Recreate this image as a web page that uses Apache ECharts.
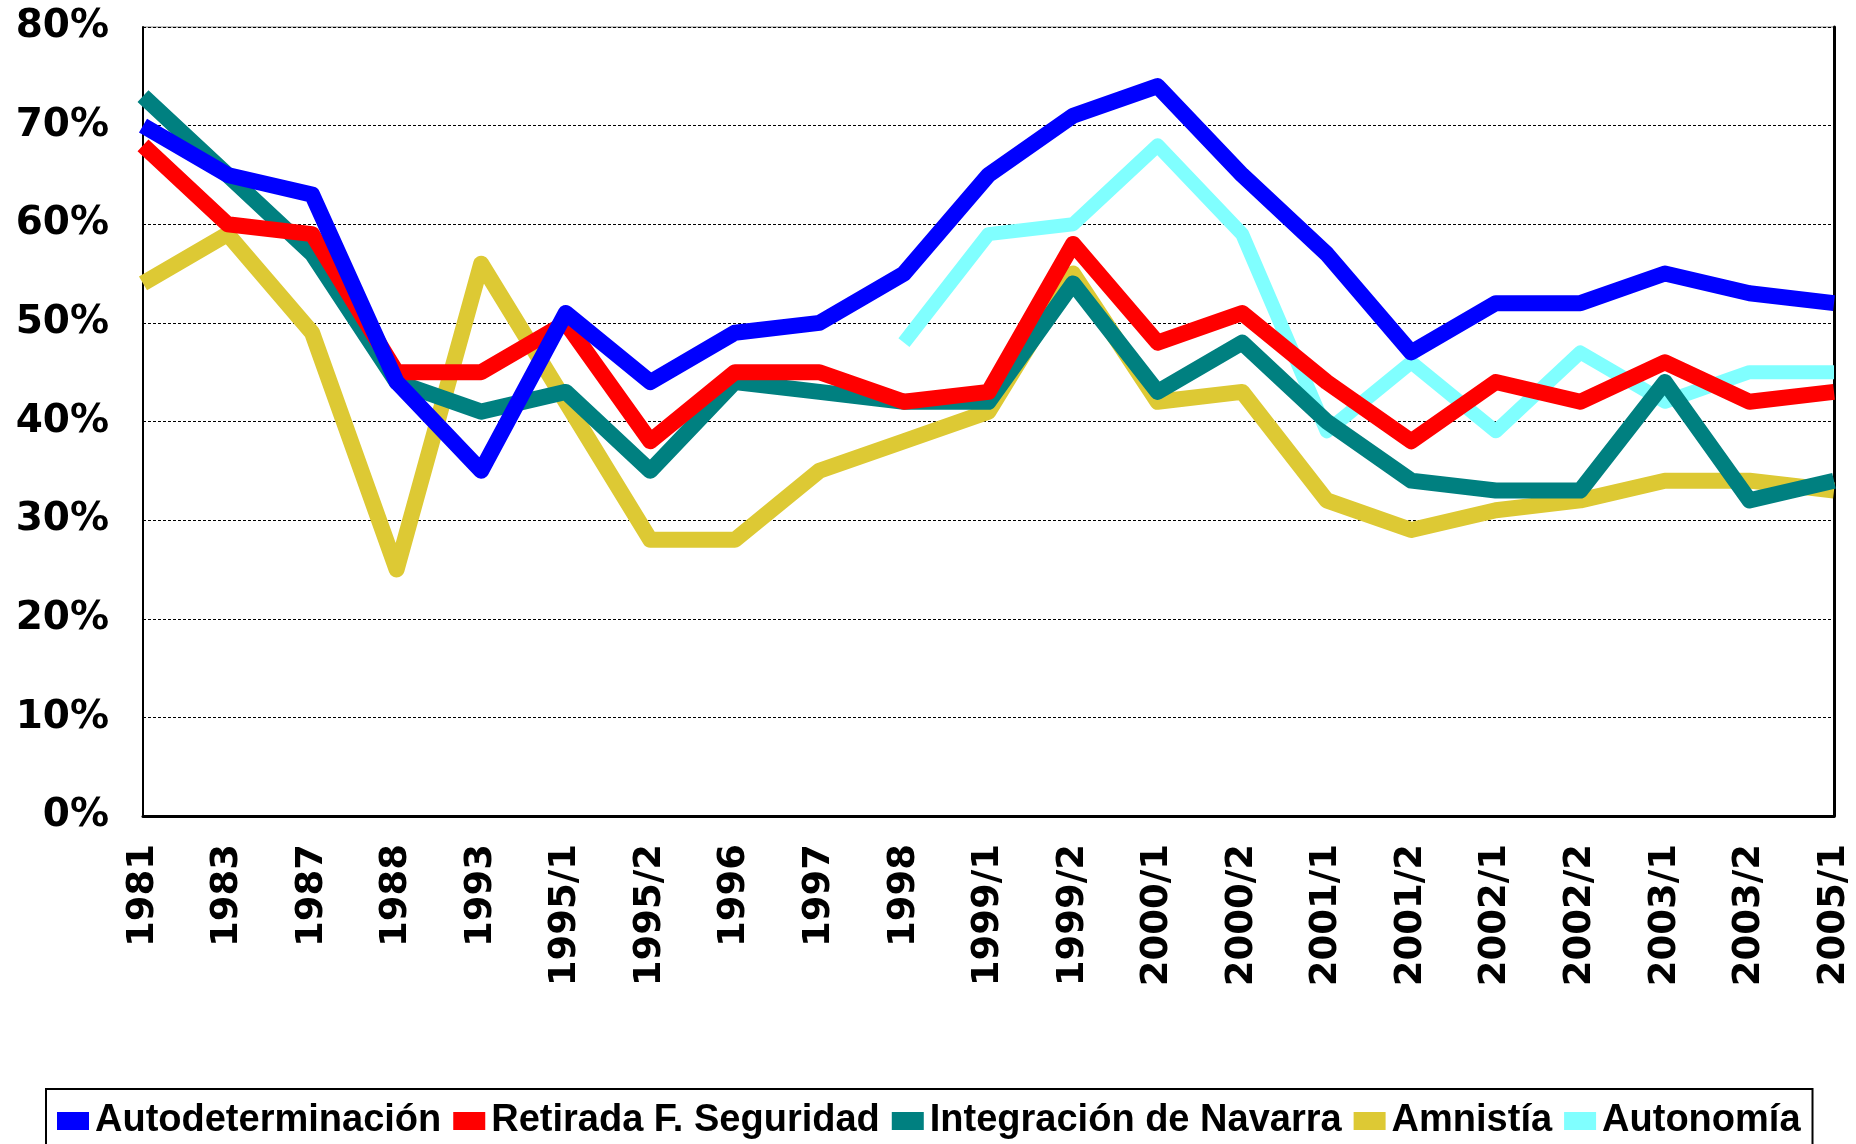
<!DOCTYPE html>
<html>
<head>
<meta charset="utf-8">
<script src="https://cdn.jsdelivr.net/npm/echarts@6/dist/echarts.min.js"></script>
<style>
html,body{margin:0;padding:0;background:#fff;}
#chart{width:1856px;height:1144px;}
</style>
</head>
<body>
<div id="chart"></div>
<script>
const categories = ['1981','1983','1987','1988','1993','1995/1','1995/2','1996','1997','1998','1999/1','1999/2','2000/1','2000/2','2001/1','2001/2','2002/1','2002/2','2003/1','2003/2','2005/1'];
const autodeterminacion = [70,65,63,44,35,51,44,49,50,55,65,71,74,65,57,47,52,52,55,53,52];
const retirada = [68,60,59,45,45,50,38,45,45,42,43,58,48,51,44,38,44,42,46,42,43];
const integracion = [73,65,57,44,41,43,35,44,43,42,42,54,43,48,40,34,33,33,44,32,34];
const amnistia = [54,59,49,25,56,42,28,28,35,38,41,55,42,43,32,29,31,32,34,34,33];
const autonomia = [null,null,null,null,null,null,null,null,null,48,59,60,68,59,39,46,39,47,42,45,45];
const yTicks = [0,10,20,30,40,50,60,70,80];

const names = ['Autodeterminación','Retirada F. Seguridad','Integración de Navarra','Amnistía','Autonomía'];
const colors = {
  'Autodeterminación':'#0000FF',
  'Retirada F. Seguridad':'#FF0000',
  'Integración de Navarra':'#008080',
  'Amnistía':'#DDC934',
  'Autonomía':'#80FFFF'
};

function mk(name, data, width){
  return {
    name: name, type: 'line', data: data,
    showSymbol: false, symbol: 'none', connectNulls: false,
    itemStyle: {color: colors[name]},
    lineStyle: {color: colors[name], width: width, cap: 'butt', join: 'round'},
    emphasis: {disabled: true}
  };
}

const chart = echarts.init(document.getElementById('chart'), null, {renderer:'canvas'});
chart.setOption({
  animation: false,
  backgroundColor: '#fff',
  grid: {left: 143, right: 22, top: 27, bottom: 328, show: true, borderColor: '#808080', borderWidth: 1, backgroundColor: 'transparent'},
  legend: {
    data: names,
    left: 46, top: 1089,
    orient: 'horizontal',
    padding: [13, 12, 10, 11],
    itemGap: 12,
    itemWidth: 32, itemHeight: 18,
    icon: 'rect',
    borderColor: '#000', borderWidth: 2,
    selectedMode: false,
    textStyle: {fontFamily: 'Liberation Sans', fontWeight: 'bold', fontSize: 38, color: '#000', padding: [0,0,0,1]}
  },
  xAxis: {
    type: 'category', data: categories, boundaryGap: false,
    axisLine: {show: true, lineStyle: {color: '#000', width: 3}},
    axisTick: {show: false},
    splitLine: {show: false},
    axisLabel: {interval: 0, rotate: 90, margin: 28, fontFamily: 'DejaVu Sans', fontWeight: 'bold', fontSize: 37, color: '#000'}
  },
  yAxis: [{
    type: 'value', min: yTicks[0], max: yTicks[yTicks.length-1], interval: 10,
    axisLine: {show: true, lineStyle: {color: '#000', width: 2}},
    axisTick: {show: false},
    splitLine: {show: true, lineStyle: {color: '#000', width: 1, type: [3,2]}},
    axisLabel: {margin: 34, formatter: '{value}%', fontFamily: 'DejaVu Sans', fontWeight: 'bold', fontSize: 39, color: '#000'}
  },{
    type: 'value', position: 'right', min: yTicks[0], max: yTicks[yTicks.length-1], interval: 10,
    axisLine: {show: true, lineStyle: {color: '#000', width: 3}},
    axisTick: {show: false}, axisLabel: {show: false}, splitLine: {show: false}
  }],
  series: [
    mk('Autonomía', autonomia, 14),
    mk('Amnistía', amnistia, 16),
    mk('Integración de Navarra', integracion, 16),
    mk('Retirada F. Seguridad', retirada, 16),
    mk('Autodeterminación', autodeterminacion, 16)
  ]
});
</script>
</body>
</html>
